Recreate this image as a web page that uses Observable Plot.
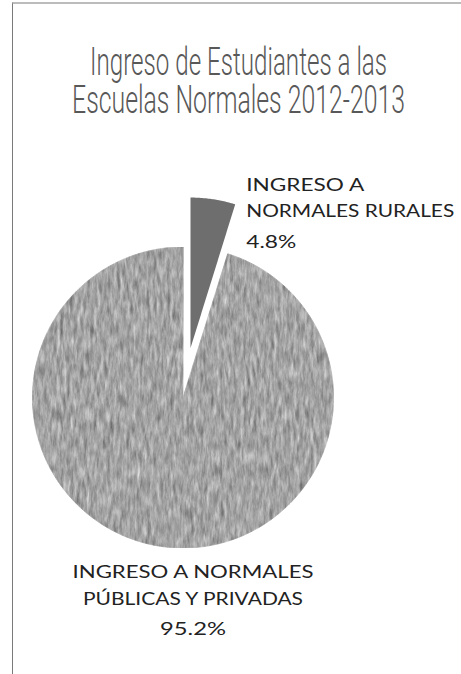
<!DOCTYPE html>
<html><head><meta charset="utf-8">
<script src="https://cdn.jsdelivr.net/npm/d3@7"></script>
<script src="https://cdn.jsdelivr.net/npm/@observablehq/plot@0.6"></script>
<style>
html,body{margin:0;padding:0;background:#fff;}
#chart{position:relative;width:461px;height:674px;overflow:hidden;background:#fff;}
#frame{position:absolute;left:12px;top:2px;right:-2px;bottom:-2px;border-left:1px solid #7a7a7a;border-top:2px solid #bcbcbc;pointer-events:none;}
#title,#plot svg{display:block;}
</style></head><body>
<div id="chart"><svg id="title" width="461" height="150"></svg><div id="plot"></div><div id="frame"></div></div>
<script>
// ---- data ----
const categories = ["INGRESO A NORMALES RURALES", "INGRESO A NORMALES PÚBLICAS Y PRIVADAS"];
const shares = [4.8, 95.2];
const nameLines = [["INGRESO A", "NORMALES RURALES"], ["INGRESO A NORMALES", "PÚBLICAS Y PRIVADAS"]];
const percentLabels = ["4.8%", "95.2%"];
const titleLines = ["Ingreso de Estudiantes a las", "Escuelas Normales 2012-2013"];

// ---- layout / style ----
const W = 461, TITLE_H = 150, PLOT_H = 524;
const CX = 182.5, CY = 247, R = 150.5, EXPLODE = 50;
const sliceFill = ["#6e6e6e", "#a3a3a3"];
const labelFont = "Lato, 'Open Sans', sans-serif";
const textWidths = {"INGRESO A": 118, "NORMALES RURALES": 208, "4.8%": 50,
  "INGRESO A NORMALES": 241, "PÚBLICAS Y PRIVADAS": 220, "95.2%": 66};

// title (condensed look: small font stretched vertically)
const tsvg = d3.select("#title");
const titleBase = [75, 113], titleW = [297, 333];
titleLines.forEach((t, i) => {
  tsvg.append("text")
    .attr("transform", `translate(238.5,${titleBase[i]}) scale(1,1.62)`)
    .attr("text-anchor", "middle").attr("font-family", "Roboto, 'DejaVu Sans Condensed', sans-serif")
    .attr("font-weight", 300).attr("font-size", 23.5).attr("fill", "#585858")
    .attr("textLength", titleW[i]).attr("lengthAdjust", "spacingAndGlyphs").text(t);
});

// slices
const total = d3.sum(shares);
let acc = 0;
const slices = categories.map((c, i) => {
  const a0 = acc / total * 2 * Math.PI; acc += shares[i];
  const a1 = acc / total * 2 * Math.PI;
  const mid = (a0 + a1) / 2, off = i === 0 ? EXPLODE / R : 0;
  return {c, i, a0, a1, mid, ox: Math.sin(mid) * off, oy: Math.cos(mid) * off};
});
function polygon(s) {
  const n = Math.max(8, Math.ceil((s.a1 - s.a0) / (Math.PI / 360)));
  const pts = [{x: s.ox, y: s.oy, c: s.c}];
  for (let k = 0; k <= n; k++) {
    const a = s.a0 + (s.a1 - s.a0) * k / n;
    pts.push({x: s.ox + Math.sin(a), y: s.oy + Math.cos(a), c: s.c});
  }
  return pts;
}

// labels
const s0 = slices[0], s1 = slices[1];
const ruralAnchor = {x: s0.ox + Math.sin(s0.a1), y: s0.oy + Math.cos(s0.a1)};
const bottomAnchor = {x: s1.ox + Math.sin(Math.PI), y: s1.oy + Math.cos(Math.PI)};
const ruralLines = [...nameLines[0], percentLabels[0]], ruralOff = [-13, 13, 44];
const bottomLines = [...nameLines[1], percentLabels[1]], bottomOff = [30, 57, 87];
const ruralLabels = ruralLines.map((t, k) => ({t, x: ruralAnchor.x + 11 / R, y: ruralAnchor.y - ruralOff[k] / R}));
const bottomLabels = bottomLines.map((t, k) => ({t, x: bottomAnchor.x + 10 / R, y: bottomAnchor.y - bottomOff[k] / R}));

const plot = Plot.plot({
  width: W, height: PLOT_H, margin: 0,
  x: {domain: [-CX / R, (W - CX) / R], axis: null},
  y: {domain: [-(PLOT_H - CY) / R, CY / R], axis: null},
  style: {background: "transparent"},
  marks: [
    Plot.line(polygon(s1), {x: "x", y: "y", fill: sliceFill[1], stroke: "#8e8e8e", strokeWidth: 0.8, curve: "linear-closed"}),
    Plot.line(polygon(s0), {x: "x", y: "y", fill: sliceFill[0], stroke: "none", curve: "linear-closed"}),
    Plot.text(ruralLabels, {x: "x", y: "y", text: "t", textAnchor: "start", lineAnchor: "bottom", fontSize: 18, fontFamily: labelFont, fill: "#222"}),
    Plot.text(bottomLabels, {x: "x", y: "y", text: "t", textAnchor: "middle", lineAnchor: "bottom", fontSize: 18, fontFamily: labelFont, fill: "#222"})
  ]
});
document.getElementById("plot").appendChild(plot);

const svg = d3.select(plot);
svg.insert("defs", ":first-child").html(`
<filter id="stone" x="0" y="0" width="100%" height="100%" color-interpolation-filters="sRGB">
  <feTurbulence type="fractalNoise" baseFrequency="0.3 0.07" numOctaves="4" seed="7" result="noise"/>
  <feColorMatrix in="noise" type="matrix" values="0.27 0.27 0.27 0 0.235  0.27 0.27 0.27 0 0.235  0.27 0.27 0.27 0 0.235  0 0 0 0 1" result="gray"/>
  <feComposite in="gray" in2="SourceGraphic" operator="in"/>
</filter>`);
svg.selectAll(`g[fill="${sliceFill[1]}"] path`).attr("filter", "url(#stone)");
svg.selectAll("text").each(function() {
  const t = this.textContent;
  if (textWidths[t]) { this.setAttribute("textLength", textWidths[t]); this.setAttribute("lengthAdjust", "spacingAndGlyphs"); }
});
</script>
</body></html>
